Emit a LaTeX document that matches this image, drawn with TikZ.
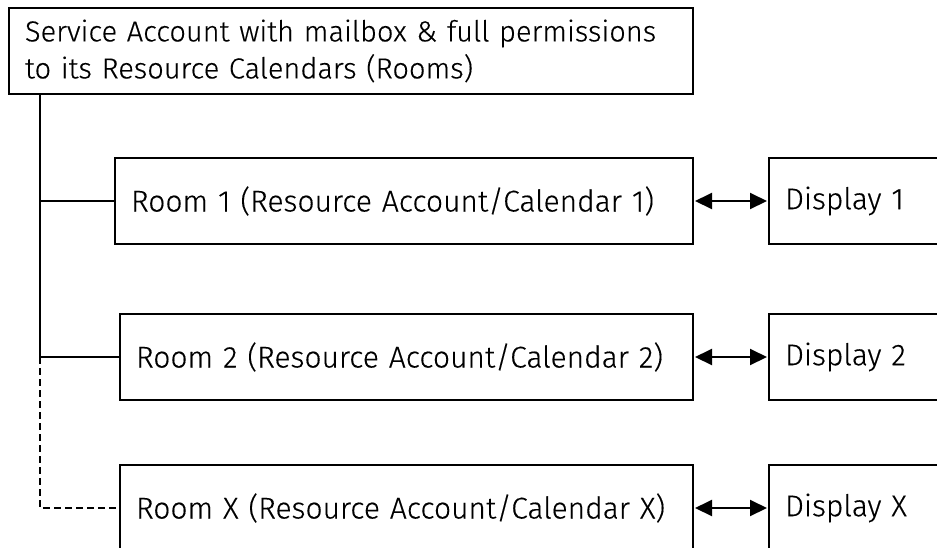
\documentclass[tikz,border=0pt]{standalone}
\usepackage{fontspec}
\setmainfont{Fira Sans Light}[BoldFont=*, BoldFeatures={FakeBold=0.3}]
\usetikzlibrary{arrows.meta}
\tikzset{
  box/.style={draw, line width=2pt, rectangle, anchor=north west, align=left, inner xsep=16pt, inner ysep=0pt, font=\fontsize{30}{37}\selectfont\bfseries},
  link/.style={line width=2pt},
  dlink/.style={line width=2pt, dash pattern=on 7pt off 4pt},
  biarrow/.style={line width=2pt, {Triangle[length=17pt,width=16pt]}-{Triangle[length=17pt,width=16pt]}, shorten <=1pt, shorten >=1pt}
}
\begin{document}
\begin{tikzpicture}[x=1pt,y=-1pt]
\useasboundingbox (0,0) rectangle (937,547);
\clip (0,0) rectangle (937,547);
\node[box, minimum width=684pt, minimum height=86pt, text width=652pt, font=\fontsize{29}{37}\selectfont\bfseries] (top) at (8,7) {Service Account with mailbox \& full permissions\\to its Resource Calendars (Rooms)};
\node[box, minimum width=578pt, minimum height=86pt, text width=546pt] (room1) at (114,157) {Room 1 (Resource Account/Calendar 1)};
\node[box, minimum width=573pt, minimum height=86pt, text width=541pt] (room2) at (119,313) {Room 2 (Resource Account/Calendar 2)};
\node[box, minimum width=573pt, minimum height=86pt, text width=541pt] (roomx) at (119,464) {Room X (Resource Account/Calendar X)};
\node[box, minimum width=200pt, minimum height=86pt, text width=168pt] (disp1) at (768,157) {Display 1};
\node[box, minimum width=200pt, minimum height=86pt, text width=168pt] (disp2) at (768,313) {Display 2};
\node[box, minimum width=200pt, minimum height=86pt, text width=168pt] (dispx) at (768,464) {Display X};
\coordinate (j1) at (room1.west -| 40,0);
\coordinate (j2) at (room2.west -| 40,0);
\coordinate (j3) at (roomx.west -| 40,0);
\draw[link] (top.south -| j1) -- (j2);
\draw[link] (j1) -- (room1.west);
\draw[link] (j2) -- (room2.west);
\draw[dlink] (j2) -- (j3) -- (roomx.west);
\draw[biarrow] (room1.east) -- (disp1.west);
\draw[biarrow] (room2.east) -- (disp2.west);
\draw[biarrow] (roomx.east) -- (dispx.west);
\end{tikzpicture}
\end{document}
